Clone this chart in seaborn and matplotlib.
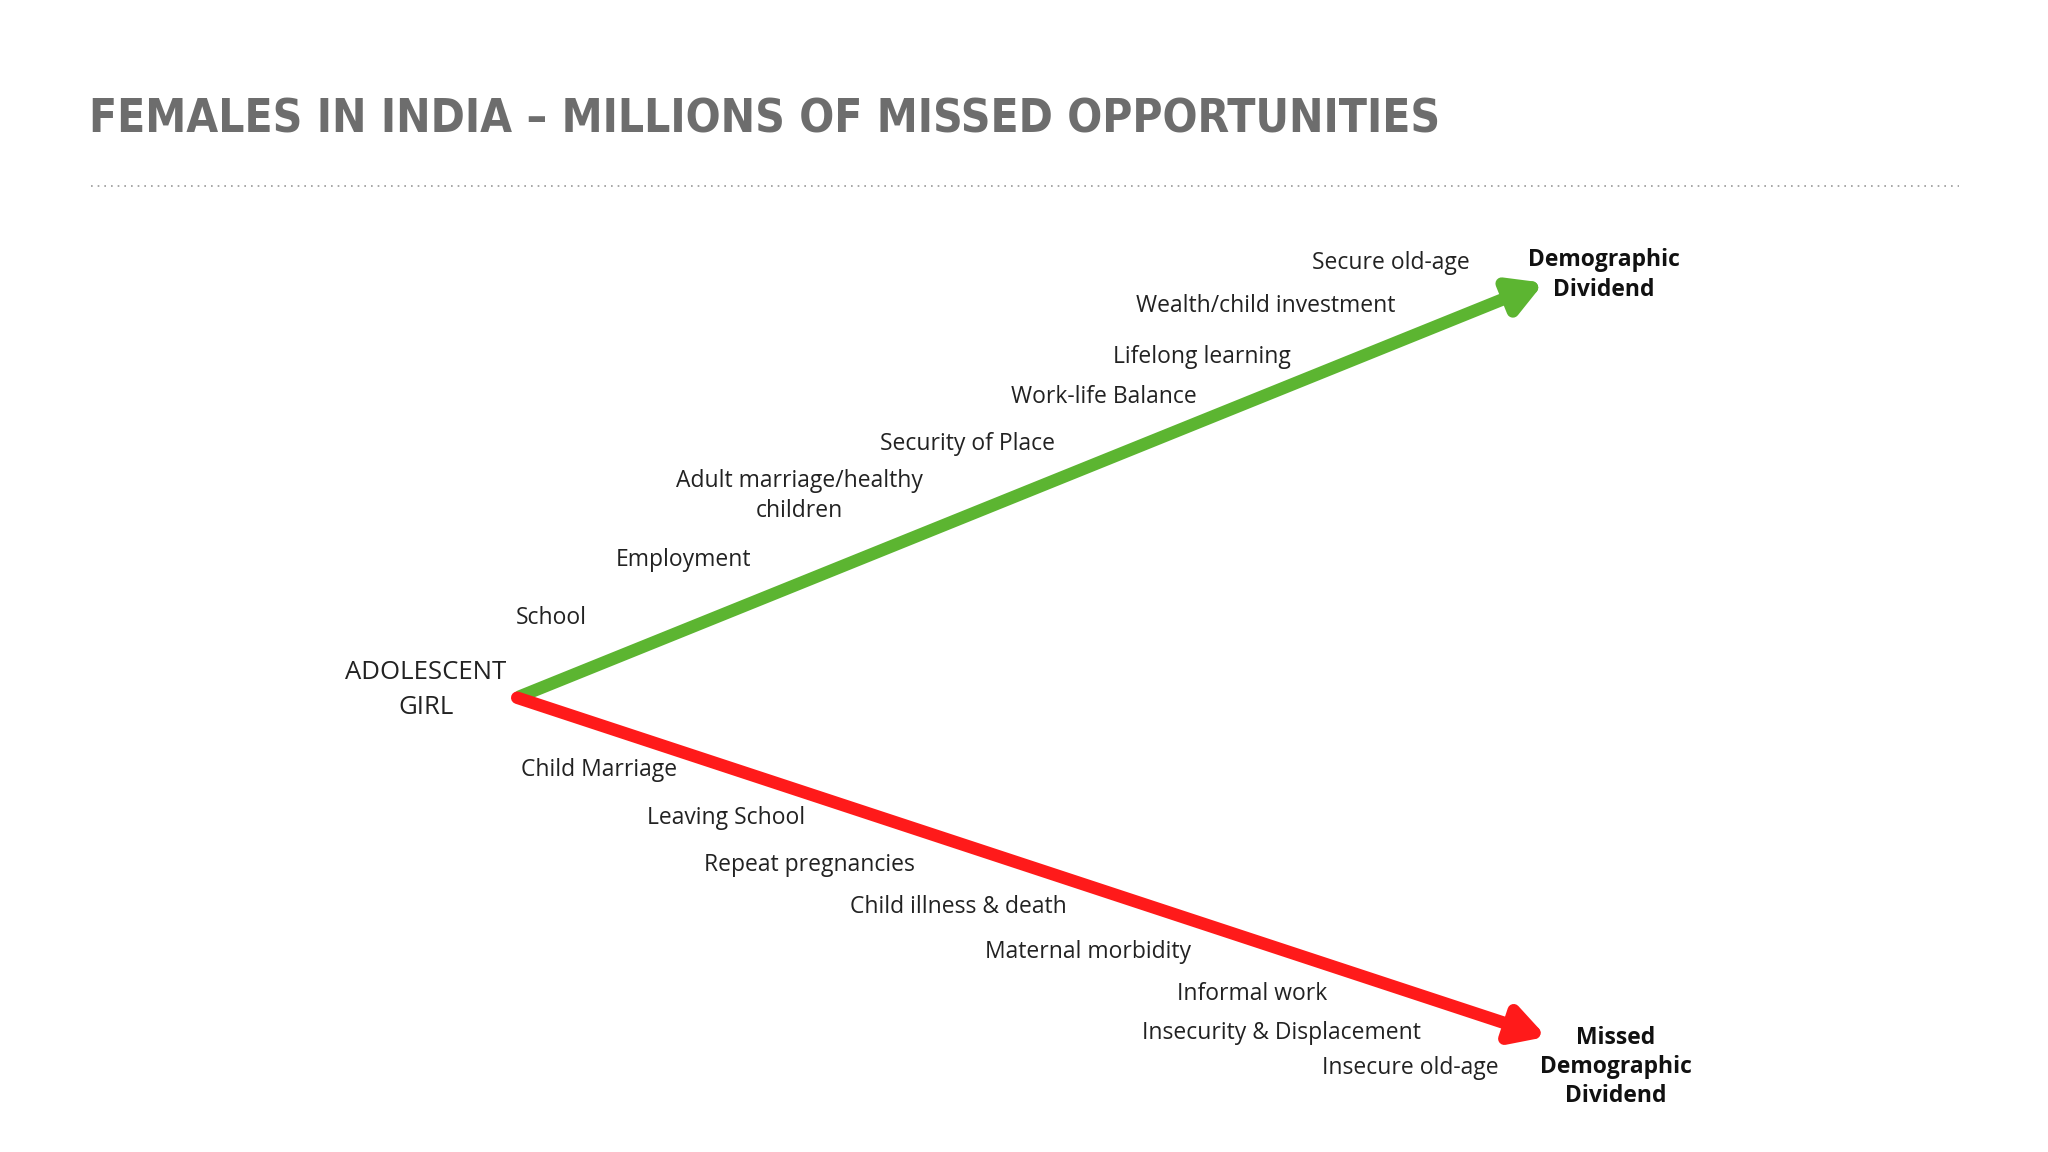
import matplotlib.pyplot as plt
import seaborn as sns

sns.set_theme(style="white")
plt.rcParams['font.family'] = ['Open Sans', 'DejaVu Sans']

title = "FEMALES IN INDIA – MILLIONS OF MISSED OPPORTUNITIES"
start = "ADOLESCENT\nGIRL"
good_end = "Demographic\nDividend"
bad_end = "Missed\nDemographic\nDividend"

good_labels = ["Secure old-age", "Wealth/child investment", "Lifelong learning",
               "Work-life Balance", "Security of Place", "Adult marriage/healthy\nchildren",
               "Employment", "School"]
bad_labels = ["Child Marriage", "Leaving School", "Repeat pregnancies",
              "Child illness & death", "Maternal morbidity", "Informal work",
              "Insecurity & Displacement", "Insecure old-age"]

# layout (canvas of 1568 x 880 units)
good_pos = [(1065, 201), (969, 234), (920, 273), (845, 303), (741, 339),
            (612, 379), (523, 428), (422, 472)]
bad_pos = [(459, 588), (556, 625), (620, 661), (734, 693), (833, 727),
           (959, 759), (981, 789), (1080, 816)]

fig = plt.figure(figsize=(20.48, 11.52), dpi=100)
ax = fig.add_axes([0, 0, 1, 1])
ax.set_xlim(0, 1568)
ax.set_ylim(880, 0)
ax.axis('off')

ax.text(68, 92, title, fontsize=33, fontweight='bold', fontstretch='condensed',
        color='#6d6d6d', family=['DejaVu Sans'], va='center', ha='left')
ax.plot([70, 1500], [142, 142], ls=(0, (1, 3)), color='#999999', lw=1.2)

ax.annotate("", xy=(1182, 216), xytext=(398, 532),
            arrowprops=dict(arrowstyle="-|>,head_length=1.6,head_width=0.9",
                            color='#5cb531', lw=9, shrinkA=0, shrinkB=0))
ax.annotate("", xy=(1184, 792), xytext=(396, 533),
            arrowprops=dict(arrowstyle="-|>,head_length=1.6,head_width=0.9",
                            color='#ff1a1a', lw=9, shrinkA=0, shrinkB=0))

for lab, (x, y) in zip(good_labels, good_pos):
    ax.text(x, y, lab, fontsize=16.5, ha='center', va='center', color='#222222', linespacing=1.3)
for lab, (x, y) in zip(bad_labels, bad_pos):
    ax.text(x, y, lab, fontsize=16.5, ha='center', va='center', color='#222222')

ax.text(326, 527, start, fontsize=18.5, ha='center', va='center', color='#222222', linespacing=1.5)
ax.text(1228, 210, good_end, fontsize=16.5, fontweight='bold', ha='center', va='center',
        color='#111111', linespacing=1.3)
ax.text(1237, 815, bad_end, fontsize=16.5, fontweight='bold', ha='center', va='center',
        color='#111111', linespacing=1.3)

fig.savefig("out.png", dpi=100)
